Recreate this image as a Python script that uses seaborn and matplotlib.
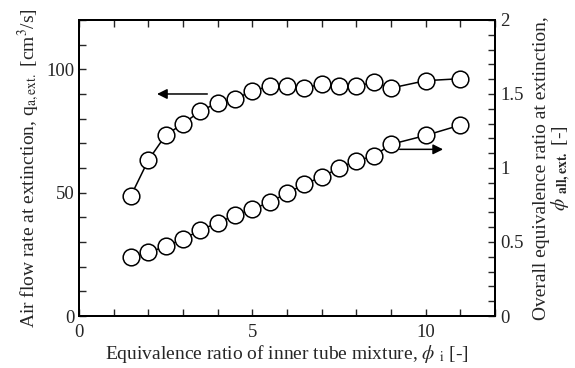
import matplotlib
matplotlib.use("Agg")
import matplotlib.pyplot as plt
import seaborn as sns
import numpy as np
from matplotlib.ticker import MultipleLocator

phi_i = [1.5, 2.0, 2.5, 3.0, 3.5, 4.0, 4.5, 5.0, 5.5, 6.0, 6.5, 7.0, 7.5, 8.0, 8.5, 9.0, 10.0, 11.0]
q_air = [48.8, 63.2, 73.3, 78.0, 83.0, 86.5, 88.0, 91.2, 93.2, 93.2, 92.3, 94.1, 93.2, 93.2, 94.7, 92.4, 95.4, 96.2]
phi_all = [0.40, 0.43, 0.47, 0.52, 0.58, 0.63, 0.68, 0.72, 0.77, 0.83, 0.89, 0.94, 1.00, 1.05, 1.08, 1.16, 1.22, 1.29]

sns.set_style("ticks")
plt.rcParams['font.family'] = ['Liberation Serif', 'DejaVu Serif']
plt.rcParams['mathtext.fontset'] = 'stix'
plt.rcParams['font.size'] = 13.5

fig = plt.figure(figsize=(5.75, 3.68), dpi=100)
ax = fig.add_axes([0.1374, 0.1413, 0.7236, 0.8044])
ax2 = ax.twinx()

mk = dict(marker='o', markersize=12, markerfacecolor='white', markeredgecolor='black',
          markeredgewidth=1.1, color='black', linewidth=1.1)
sns.lineplot(x=phi_i, y=q_air, ax=ax, **mk)
sns.lineplot(x=phi_i, y=phi_all, ax=ax2, **mk)

ax.set_xlim(0, 12)
ax.set_ylim(0, 120)
ax2.set_ylim(0, 2)
ax.xaxis.set_major_locator(MultipleLocator(5))
ax.xaxis.set_minor_locator(MultipleLocator(1))
ax.yaxis.set_major_locator(MultipleLocator(50))
ax.yaxis.set_minor_locator(MultipleLocator(10))
ax2.set_yticks([0, 0.5, 1, 1.5, 2])
ax2.set_yticklabels(['0', '0.5', '1', '1.5', '2'])
ax2.yaxis.set_minor_locator(MultipleLocator(0.1))

for a in (ax, ax2):
    for s in a.spines.values():
        s.set_linewidth(1.4)
        s.set_color('black')
ax.tick_params(axis='x', which='both', direction='in', top=True, bottom=True, length=5, width=1.0, labelsize=13.5, pad=6)
ax.tick_params(axis='y', which='both', direction='in', left=True, right=False, length=5, width=1.0, labelsize=13.5)
ax2.tick_params(axis='y', which='both', direction='in', right=True, left=False, length=5, width=1.0, labelsize=13.5)

ax.set_xlabel("Equivalence ratio of inner tube mixture, $\\phi$ $_{\\rm i}$ [-]", fontsize=14, labelpad=1)
ax.set_ylabel("Air flow rate at extinction, q$_{\\rm a,ext.}$ [cm$^3$/s]", fontsize=14, labelpad=3)
ax2.set_ylabel("Overall equivalence ratio at extinction,\n$\\phi$ $_{\\mathbf{all,ext.}}$ [-]",
               fontsize=14, labelpad=7, linespacing=1.0)

ax.annotate("", xy=(2.25, 90), xytext=(3.7, 90),
            arrowprops=dict(arrowstyle='-|>', color='black', lw=1.1, mutation_scale=15, shrinkA=0, shrinkB=0))
ax2.annotate("", xy=(10.5, 1.126), xytext=(9.25, 1.126),
             arrowprops=dict(arrowstyle='-|>', color='black', lw=1.1, mutation_scale=15, shrinkA=0, shrinkB=0))

fig.savefig("out.png", dpi=100)
